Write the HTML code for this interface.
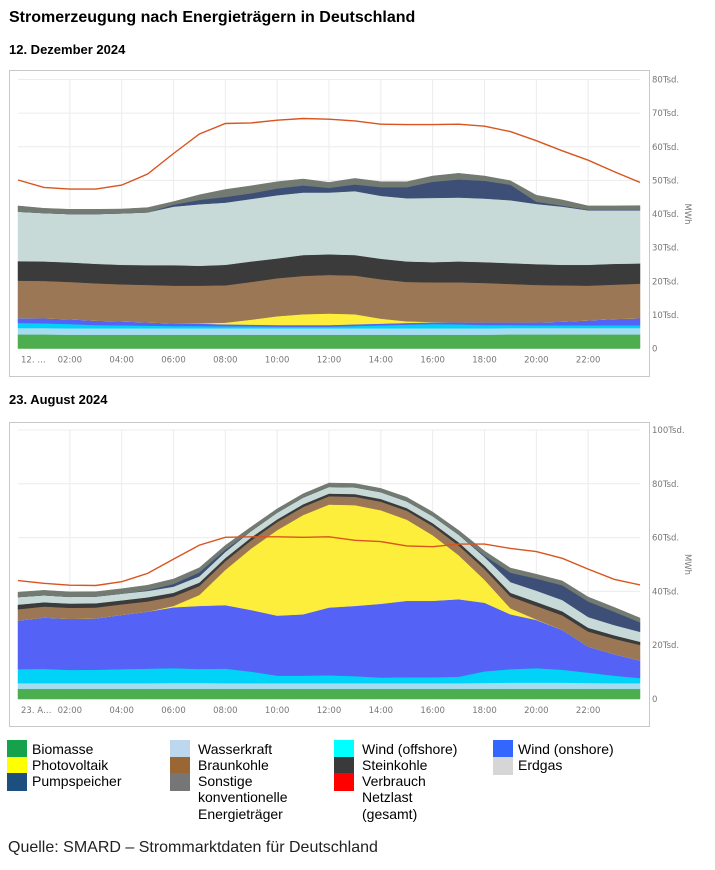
<!DOCTYPE html>
<html><head><meta charset="utf-8">
<style>
body{margin:0;width:715px;height:870px;background:#fff;font-family:"Liberation Sans",Arial,sans-serif;position:relative;overflow:hidden;color:#000}
.t{position:absolute;left:9px;font-weight:bold}
.box{position:absolute;left:9px;width:639px;border:1px solid #c8c8c8;background:#fff}
svg{position:absolute;left:0;top:0}
.lg{position:absolute;font-size:14px;line-height:16.3px}
.sw{position:absolute;width:20px;height:18px}
</style></head><body>
<div class="t" style="top:9px;font-size:16px">Stromerzeugung nach Energieträgern in Deutschland</div>
<div class="t" style="top:42px;font-size:13px">12. Dezember 2024</div>
<div class="t" style="top:392px;font-size:13px">23. August 2024</div>
<div class="box" style="top:70px;height:305px"></div>
<div class="box" style="top:422px;height:303px"></div>
<svg id="s" width="715" height="870"></svg>

<div>
<div class="sw" style="left:7px;top:740px;background:#16a24a"></div>
<div class="lg" style="left:32px;top:741px">Biomasse</div>
<div class="sw" style="left:7px;top:757px;background:#ffff00"></div>
<div class="lg" style="left:32px;top:757px">Photovoltaik</div>
<div class="sw" style="left:7px;top:773px;background:#1d4f7e"></div>
<div class="lg" style="left:32px;top:773px">Pumpspeicher</div>
<div class="sw" style="left:170px;top:740px;background:#bcd7ee"></div>
<div class="lg" style="left:198px;top:741px">Wasserkraft</div>
<div class="sw" style="left:170px;top:757px;background:#9a6633"></div>
<div class="lg" style="left:198px;top:757px">Braunkohle</div>
<div class="sw" style="left:170px;top:773px;background:#767676"></div>
<div class="lg" style="left:198px;top:773px">Sonstige<br>konventionelle<br>Energieträger</div>
<div class="sw" style="left:334px;top:740px;background:#00ffff"></div>
<div class="lg" style="left:362px;top:741px">Wind (offshore)</div>
<div class="sw" style="left:334px;top:757px;background:#3a3a3a"></div>
<div class="lg" style="left:362px;top:757px">Steinkohle</div>
<div class="sw" style="left:334px;top:773px;background:#ff0000"></div>
<div class="lg" style="left:362px;top:773px">Verbrauch<br>Netzlast<br>(gesamt)</div>
<div class="sw" style="left:493px;top:740px;background:#3366ff"></div>
<div class="lg" style="left:518px;top:741px">Wind (onshore)</div>
<div class="sw" style="left:493px;top:757px;background:#d6d6d6"></div>
<div class="lg" style="left:518px;top:757px">Erdgas</div>
</div>
<div style="position:absolute;left:8px;top:839px;font-size:16px;color:#222">Quelle: SMARD – Strommarktdaten für Deutschland</div>

<script>
const hours = [0,1,2,3,4,5,6,7,8,9,10,11,12,13,14,15,16,17,18,19,20,21,22,23,24];
const tickHours = [2,4,6,8,10,12,14,16,18,20,22];
const tickLabels = ["02:00","04:00","06:00","08:00","10:00","12:00","14:00","16:00","18:00","20:00","22:00"];
const seriesNames = ["biomasse","wasserkraft","wind-offshore","wind-onshore","photovoltaik","braunkohle","steinkohle","erdgas","pumpspeicher","sonstige"];
const seriesColors = ["#4cae4f","#a6dcef","#00d2f8","#5462f6","#fdee3c","#9b7756","#3b3b3b","#c7dad8","#3d4f77","#727a72"];
// Chart 1: 12 Dec 2024 (thousand MWh)
const dec_biomasse = [4.2,4.2,4.1,4.1,4.1,4.1,4.1,4.1,4.1,4.1,4.1,4.1,4.1,4.1,4.1,4.1,4.1,4.1,4.1,4.2,4.2,4.2,4.2,4.2,4.2];
const dec_wasser = [1.9,1.9,1.9,1.9,1.9,1.9,1.9,1.9,1.9,1.9,1.9,1.9,1.9,1.9,1.9,1.9,1.9,1.9,1.9,1.9,1.9,1.9,1.9,1.9,1.9];
const dec_offshore = [1.5,1.4,1.3,1.0,0.9,0.8,0.7,0.7,0.6,0.6,0.5,0.5,0.5,0.7,0.9,1.1,1.3,1.2,1.0,0.9,0.8,0.8,0.8,0.8,0.8];
const dec_onshore = [1.5,1.5,1.4,1.3,1.2,1.0,0.8,0.7,0.6,0.5,0.5,0.5,0.5,0.5,0.5,0.5,0.5,0.6,0.8,0.8,0.9,1.1,1.5,1.9,2.1];
const dec_pv = [0,0,0,0,0,0,0,0.1,0.5,1.5,2.6,3.2,3.4,3.0,1.5,0.5,0.1,0,0,0,0,0,0,0,0];
const dec_braun = [11.1,11.1,11.1,11.1,11.0,11.1,11.2,11.2,11.1,11.2,11.3,11.4,11.5,11.5,11.7,11.7,11.8,11.9,11.7,11.4,11.1,10.8,10.3,10.2,10.3];
const dec_stein = [5.8,5.8,5.8,5.8,5.8,5.9,6.1,5.9,6.1,6.1,5.9,6.2,6.1,6.1,6.1,6.1,6.0,6.2,6.2,6.2,6.2,6.1,6.2,6.2,6.0];
const dec_erdgas = [14.7,14.4,14.4,14.8,15.3,15.7,17.4,18.3,18.5,18.6,18.8,18.6,18.4,19.0,18.7,18.8,19.1,19.0,18.9,18.7,17.9,17.3,16.2,15.9,15.8];
const dec_pump = [0,0,0,0,0,0,0.6,1.3,1.7,1.7,2.0,2.1,1.4,2.0,2.6,3.3,4.8,5.4,5.3,4.6,0.7,0.3,0.2,0.2,0.2];
const dec_sonstige = [1.7,1.4,1.4,1.4,1.3,1.4,0.9,1.5,2.2,2.2,2.0,1.9,1.6,1.8,1.6,1.6,1.7,1.8,1.4,1.2,1.9,1.7,1.1,1.1,1.2];
const dec_verbrauch = [50.1,47.9,47.4,47.4,48.6,51.9,58.0,63.8,66.9,67.1,67.9,68.4,68.2,67.7,66.7,66.6,66.6,66.7,66.1,64.5,61.8,58.8,56.0,52.6,49.4];
const dec_yTicks = [0,10,20,30,40,50,60,70,80];
const dec_yLabels = ["0","10Tsd.","20Tsd.","30Tsd.","40Tsd.","50Tsd.","60Tsd.","70Tsd.","80Tsd."];
// Chart 2: 23 Aug 2024
const aug_biomasse = [3.8,3.8,3.8,3.8,3.8,3.8,3.8,3.8,3.8,3.8,3.8,3.8,3.8,3.8,3.8,3.8,3.8,3.8,3.8,3.8,3.8,3.8,3.8,3.8,3.8];
const aug_wasser = [2.1,2.1,2.1,2.1,2.1,2.1,2.2,2.2,2.1,2.1,2.1,2.1,2.1,2.1,2.1,2.1,2.1,2.1,2.2,2.3,2.3,2.3,2.2,2.1,2.1];
const aug_offshore = [5.2,5.3,4.9,5.0,5.2,5.4,5.5,5.2,5.4,4.3,2.8,2.8,2.9,2.6,2.1,2.2,2.2,2.4,4.3,5.0,5.4,4.8,3.8,2.8,1.9];
const aug_onshore = [18.1,19.1,19.0,19.1,20.2,21.2,22.6,23.4,23.6,22.9,22.3,22.8,25.2,26.1,27.4,28.4,28.4,28.8,25.5,20.4,17.9,14.8,9.7,8.0,6.5];
const aug_pv = [0,0,0,0,0,0,0.5,4.1,13.1,22.9,31.8,36.9,38.3,37.5,34.8,30.2,24.4,16.4,8.5,2.2,0.2,0,0,0,0];
const aug_braun = [4.2,4.1,4.1,4.0,3.9,3.8,3.5,3.3,3.2,3.0,3.0,3.0,3.1,3.1,3.2,3.3,3.4,3.6,4.0,4.4,5.0,5.4,5.6,5.7,5.8];
const aug_stein = [1.7,1.6,1.6,1.6,1.5,1.5,1.4,1.3,1.2,1.1,1.0,1.0,1.0,1.0,1.0,1.0,1.1,1.2,1.3,1.4,1.5,1.5,1.4,1.3,1.2];
const aug_erdgas = [2.8,2.6,2.5,2.5,2.5,2.4,2.3,2.3,2.3,2.4,2.5,2.5,2.5,2.5,2.5,2.5,2.6,2.8,3.2,4.0,4.2,4.2,4.0,3.8,3.7];
const aug_pump = [0,0,0,0,0,0.3,1.0,1.5,0.8,0,0,0,0,0,0,0,0,0,0.5,3.5,4.5,5.5,5.8,5.0,3.5];
const aug_sonstige = [1.8,1.8,1.8,1.8,1.8,1.8,1.8,1.7,1.6,1.5,1.4,1.4,1.4,1.4,1.4,1.5,1.5,1.6,1.7,1.7,1.6,1.6,1.6,1.6,1.6];
const aug_verbrauch = [44.0,43.0,42.3,42.2,43.6,46.7,52.0,57.2,60.1,60.3,60.3,60.1,60.3,59.0,58.5,56.9,56.6,57.6,57.6,56.0,54.8,52.3,48.3,44.5,42.4];
const aug_yTicks = [0,20,40,60,80,100];
const aug_yLabels = ["0","20Tsd.","40Tsd.","60Tsd.","80Tsd.","100Tsd."];

const NS="http://www.w3.org/2000/svg";
const svg=document.getElementById('s');
function mk(tag,attrs,parent){const e=document.createElementNS(NS,tag);for(const k in attrs)e.setAttribute(k,attrs[k]);(parent||svg).appendChild(e);return e;}

function drawChart(prefix,cfg){
  const x0=18,x1=640,y0=cfg.y0,yTop=cfg.yTop,vmax=cfg.vmax;
  const xs=h=>x0+(x1-x0)*h/24;
  const ys=v=>y0-(y0-yTop)*v/vmax;
  const g=mk('g',{});
  
  
  // grid
  tickHours.forEach((h,i)=>{
    const l=mk('line',{x1:xs(h),x2:xs(h),y1:yTop,y2:y0,stroke:'#ececec','stroke-width':1},g);
    
    
    const t=mk('text',{x:xs(h),y:y0+14,'font-size':8.5,fill:'#777','text-anchor':'middle','font-family':'DejaVu Sans, sans-serif'},g);
    t.textContent=tickLabels[i];
    
    
  });
  const t0=mk('text',{x:x0+3,y:y0+14,'font-size':8.5,fill:'#777','font-family':'DejaVu Sans, sans-serif'},g);
  t0.textContent=cfg.firstLabel;
  
  
  cfg.yTicks.forEach((v,i)=>{
    const l=mk('line',{x1:x0,x2:x1,y1:ys(v),y2:ys(v),stroke:'#ececec','stroke-width':1},g);
    
    
    const t=mk('text',{x:652,y:ys(v)+3,'font-size':8.5,fill:'#777','font-family':'DejaVu Sans, sans-serif'},g);
    t.textContent=cfg.yLabels[i];
    
    
  });
  const yt=mk('text',{x:0,y:0,'font-size':8.5,fill:'#777','font-family':'DejaVu Sans, sans-serif',transform:`translate(685,${(y0+yTop)/2}) rotate(90)`,'text-anchor':'middle'},g);
  yt.textContent='MWh';
  
  
  // stacked areas
  const base=hours.map(()=>0);
  cfg.series.forEach((arr,si)=>{
    const top=base.map((b,i)=>b+arr[i]);
    let d='M'+hours.map((h,i)=>xs(h).toFixed(1)+','+ys(top[i]).toFixed(1)).join(' L');
    for(let i=hours.length-1;i>=0;i--)d+=' L'+xs(hours[i]).toFixed(1)+','+ys(base[i]).toFixed(1);
    d+='Z';
    const p=mk('path',{d,fill:seriesColors[si],stroke:seriesColors[si],'stroke-width':0.5},g);
    
    
    top.forEach((v,i)=>base[i]=v);
  });
  const ld='M'+hours.map((h,i)=>xs(h).toFixed(1)+','+ys(cfg.line[i]).toFixed(1)).join(' L');
  const ln=mk('path',{d:ld,fill:'none',stroke:'#d9541e','stroke-width':1.4},g);
  
  
}
drawChart('chart1',{y0:348.5,yTop:79.5,vmax:80,yTicks:dec_yTicks,yLabels:dec_yLabels,firstLabel:'12. …',
  series:[dec_biomasse,dec_wasser,dec_offshore,dec_onshore,dec_pv,dec_braun,dec_stein,dec_erdgas,dec_pump,dec_sonstige],line:dec_verbrauch});
drawChart('chart2',{y0:699,yTop:430,vmax:100,yTicks:aug_yTicks,yLabels:aug_yLabels,firstLabel:'23. A…',
  series:[aug_biomasse,aug_wasser,aug_offshore,aug_onshore,aug_pv,aug_braun,aug_stein,aug_erdgas,aug_pump,aug_sonstige],line:aug_verbrauch});
</script>
</body></html>
